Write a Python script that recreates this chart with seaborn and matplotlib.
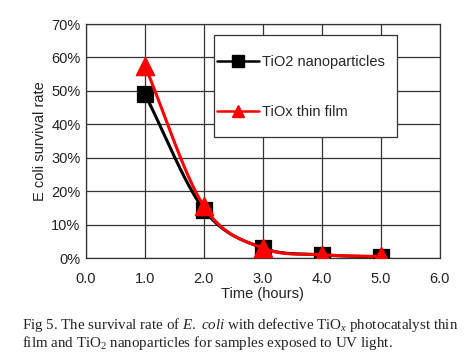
import numpy as np
import pandas as pd
import matplotlib
matplotlib.use("Agg")
import matplotlib.pyplot as plt
from matplotlib.lines import Line2D
from matplotlib.patches import Rectangle
import seaborn as sns

# valores
horas = [1.0, 2.0, 3.0, 4.0, 5.0]
tio2_nano = [49.0, 14.5, 3.0, 1.0, 0.3]
tiox_film = [57.5, 15.5, 3.0, 1.0, 0.5]
xticks = [0, 1, 2, 3, 4, 5, 6]
yticks = [0, 10, 20, 30, 40, 50, 60, 70]


def suavizar(xs, ys, n=40):
    # curva tipo Catmull-Rom (como el "smoothed line" de Excel)
    p = np.column_stack([xs, ys]).astype(float)
    p = np.vstack([2 * p[0] - p[1], p, 2 * p[-1] - p[-2]])
    out = []
    for i in range(1, len(p) - 2):
        p0, p1, p2, p3 = p[i - 1], p[i], p[i + 1], p[i + 2]
        for t in np.linspace(0, 1, n, endpoint=False):
            t2, t3 = t * t, t * t * t
            out.append(0.5 * (2 * p1 + (-p0 + p2) * t
                              + (2 * p0 - 5 * p1 + 4 * p2 - p3) * t2
                              + (-p0 + 3 * p1 - 3 * p2 + p3) * t3))
    out.append(p[-2])
    out = np.array(out)
    return pd.DataFrame({"x": out[:, 0], "y": out[:, 1]})


sns.set_theme(style="white")
plt.rcParams["font.family"] = ["Liberation Sans", "DejaVu Sans"]
plt.rcParams["mathtext.fontset"] = "custom"
plt.rcParams["mathtext.rm"] = "Liberation Serif"
plt.rcParams["mathtext.it"] = "Liberation Serif:italic"

fig = plt.figure(figsize=(4.75, 3.59), dpi=100)
ax = fig.add_axes([0.181, 0.281, 0.745, 0.652])

negro = suavizar(horas, tio2_nano)
rojo = suavizar(horas, tiox_film)
sns.lineplot(data=negro, x="x", y="y", color="black", lw=2.2, sort=False, ax=ax, zorder=3)
sns.scatterplot(x=horas, y=tio2_nano, marker="s", s=125, color="black", edgecolor="black", ax=ax, zorder=4)
sns.lineplot(data=rojo, x="x", y="y", color="#ff0000", lw=2.2, sort=False, ax=ax, zorder=5)
sns.scatterplot(x=horas, y=tiox_film, marker="^", s=170, color="#ff0000", edgecolor="#ff0000", ax=ax, zorder=6)

ax.set_xlim(0, 6)
ax.set_ylim(0, 70)
ax.set_xticks(xticks)
ax.set_xticklabels([f"{v:.1f}" for v in xticks])
ax.set_yticks(yticks)
ax.set_yticklabels([f"{v}%" for v in yticks])
ax.tick_params(labelsize=10.5, length=0, colors="#222222")
ax.tick_params(axis="x", pad=10)
ax.tick_params(axis="y", pad=4)
ax.grid(True, color="#333333", lw=0.9)
for s in ax.spines.values():
    s.set_color("#333333")
    s.set_linewidth(0.9)
ax.set_xlabel("Time (hours)", fontsize=10.5, color="#222222", labelpad=1)
ax.set_ylabel("E coli survival rate", fontsize=10.5, color="#222222", labelpad=3)

# caja de la leyenda
ax.add_patch(Rectangle((0.362, 0.517), 0.517, 0.436, transform=ax.transAxes,
                       facecolor="white", edgecolor="#333333", lw=0.9, zorder=9))
manejadores = [
    Line2D([], [], color="black", lw=1.8, marker="s", markersize=8),
    Line2D([], [], color="#ff0000", lw=1.8, marker="^", markersize=9),
]
leg = ax.legend(manejadores, ["TiO2 nanoparticles", "TiOx thin film"],
                loc="center left", bbox_to_anchor=(0.370, 0.731), borderaxespad=0,
                fontsize=10.5, frameon=False, borderpad=0,
                handlelength=2.9, handletextpad=0.2, labelspacing=2.45)
leg.set_zorder(10)

# pie de figura
fig.text(0.046, 1 - 325 / 359,
         r"Fig 5. The survival rate of $\mathit{E.\ coli}$ with defective TiO$_\mathit{x}$ photocatalyst thin",
         family="Liberation Serif", fontsize=10.8, va="center", ha="left", color="#222222")
fig.text(0.046, 1 - 343 / 359,
         r"film and TiO$_\mathrm{2}$ nanoparticles for samples exposed to UV light.",
         family="Liberation Serif", fontsize=10.8, va="center", ha="left", color="#222222")

fig.savefig("out.png", dpi=100)
